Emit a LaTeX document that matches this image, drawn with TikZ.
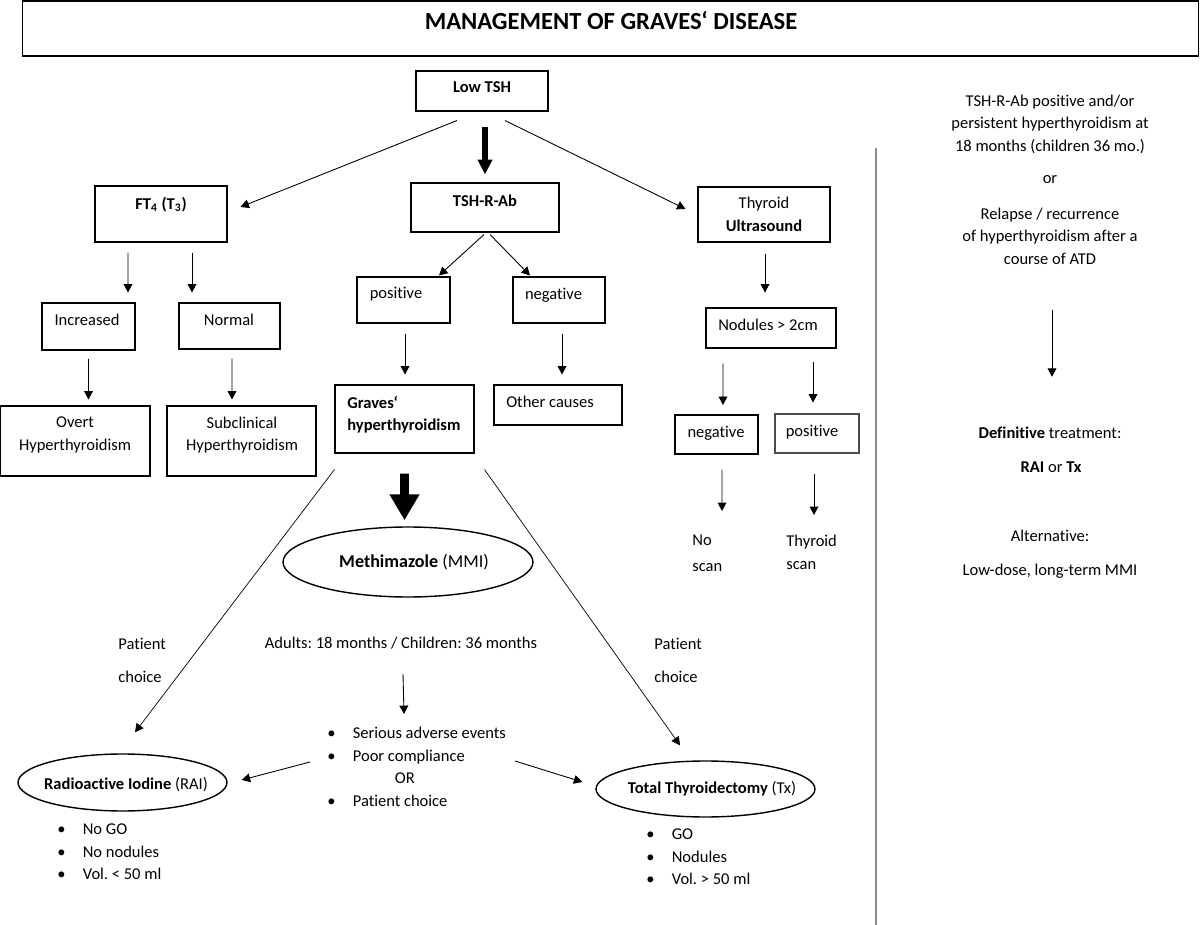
\documentclass[tikz,border=0pt]{standalone}
\usepackage{fontspec}
\setmainfont{Carlito}[Ligatures=NoCommon]
\usetikzlibrary{arrows.meta,shapes.geometric,calc}
\newcommand{\bul}{\makebox[14.5pt][l]{\textbullet}}
\frenchspacing

\begin{document}
\begin{tikzpicture}[x=0.02cm,y=-0.02cm]
	\tikzstyle{every node}+=[inner sep=0pt, font=\fontsize{9.4}{12.8}\selectfont]
	\tikzstyle{box}=[draw, line width=0.6pt]
	\tikzstyle{oval}=[draw, ellipse, line width=0.8pt]
	\tikzstyle{txt}=[align=center]
	\tikzstyle{arr}=[-{Triangle[length=4.8pt,width=5pt]}, line width=0.5pt]
	\tikzstyle{fat}=[-{Triangle[length=8.5pt,width=8pt]}, line width=3.4pt]
	\tikzstyle{huge}=[-{Triangle[length=14.7pt,width=16pt]}, line width=5pt]
	\useasboundingbox (0,0) rectangle (1200,925);
	% title
	\node[box, minimum width=23.54cm, minimum height=1.1cm] (title) at (610.5,28.5) {};
	\node[font=\fontsize{14}{16}\selectfont\bfseries] (titlelbl) at (611,21) {MANAGEMENT OF GRAVES‘ DISEASE};
	% first row
	\node[box, minimum width=2.64cm, minimum height=0.8cm] (lowtsh) at (482,91) {};
	\node[txt] (lowtshlbl) at (482,87.5) {\textbf{Low TSH}};
	\node[box, minimum width=2.64cm, minimum height=1.12cm] (ft4) at (161,214) {};
	\node[txt] (ft4lbl) at (161,204.5) {\textbf{FT\textsubscript{4} (T\textsubscript{3})}};
	\node[box, minimum width=2.96cm, minimum height=0.98cm] (trab) at (485,207.5) {};
	\node[txt] (trablbl) at (485,201) {\textbf{TSH-R-Ab}};
	\node[box, minimum width=2.64cm, minimum height=1.1cm] (us) at (764,214.5) {};
	\node[txt] (uslbl) at (764,214.5) {Thyroid\\\textbf{Ultrasound}};
	% second row
	\node[box, minimum width=1.86cm, minimum height=0.94cm] (inc) at (88.5,326.5) {};
	\node[txt] (inclbl) at (87,320) {Increased};
	\node[box, minimum width=2.02cm, minimum height=0.92cm] (norm) at (229.5,326) {};
	\node[txt] (normlbl) at (229,320) {Normal};
	\node[box, minimum width=1.86cm, minimum height=0.92cm] (pos) at (403.5,300) {};
	\node[txt] (poslbl) at (396,294.5) {positive};
	\node[box, minimum width=1.84cm, minimum height=0.92cm] (neg) at (559,300) {};
	\node[txt] (neglbl) at (553.5,295) {negative};
	\node[box, minimum width=2.6cm, minimum height=0.8cm] (nod) at (771,328) {};
	\node[txt] (nodlbl) at (768,325) {Nodules > 2cm};
	% third row
	\node[box, minimum width=3.0cm, minimum height=1.4cm] (overt) at (75,441) {};
	\node[txt] (overtlbl) at (75,435) {Overt\\Hyperthyroidism};
	\node[box, minimum width=2.98cm, minimum height=1.4cm] (subc) at (241.5,441) {};
	\node[txt] (subclbl) at (242,435) {Subclinical\\Hyperthyroidism};
	\node[box, minimum width=2.78cm, minimum height=1.36cm] (graves) at (404.5,419) {};
	\node[align=left, anchor=west] (graveslbl) at (347,414.5) {\textbf{Graves‘}\\\textbf{hyperthyroidism}};
	\node[box, minimum width=2.56cm, minimum height=0.8cm] (other) at (558,405) {};
	\node[txt] (otherlbl) at (550,402) {Other causes};
	\node[box, minimum width=1.66cm, minimum height=0.78cm] (negr) at (716.5,434.5) {};
	\node[txt] (negrlbl) at (716,433) {negative};
	\node[box, draw=black!70, minimum width=1.68cm, minimum height=0.78cm] (posr) at (817,433.5) {};
	\node[txt] (posrlbl) at (812,432) {positive};
	\node[align=left, anchor=north west] (noscan) at (692,535) {No\\[2pt]scan};
	\node[align=left, anchor=north west] (thyscan) at (786,535) {Thyroid\\scan};
	% treatment
	\node[oval, minimum width=5cm, minimum height=1.4cm] (mmi) at (408,562) {};
	\node[txt, font=\fontsize{10.3}{12}\selectfont] (mmilbl) at (414,562) {\textbf{Methimazole} (MMI)};
	\node[txt] (adults) at (401,643) {Adults: 18 months / Children: 36 months};
	\node[align=left, anchor=west] (pcl) at (118,660.5) {Patient\\[5.8pt]choice};
	\node[align=left, anchor=west] (pcr) at (654,660.5) {Patient\\[5.8pt]choice};
	\node[align=left, anchor=north west] (crit) at (327,727) {\bul Serious adverse events\\\bul Poor compliance\\\hspace{38.5pt}OR\\\bul Patient choice};
	\node[oval, minimum width=4.18cm, minimum height=1.14cm] (rai) at (122.5,782.5) {};
	\node[txt] (railbl) at (126,785) {\textbf{Radioactive Iodine} (RAI)};
	\node[oval, minimum width=4.38cm, minimum height=1.12cm] (tx) at (705.5,789) {};
	\node[txt] (txlbl) at (712,789) {\textbf{Total Thyroidectomy} (Tx)};
	\node[align=left, anchor=north west] (railist) at (57,823.5) {\bul No GO\\\bul No nodules\\\bul Vol. < 50 ml};
	\node[align=left, anchor=north west] (txlist) at (646,828.5) {\bul GO\\\bul Nodules\\\bul Vol. > 50 ml};
	% right panel
	\draw[line width=1pt, black!45] (876,148) -- (876,925);
	\node[txt] (rcrit) at (1050,124) {TSH-R-Ab positive and/or\\persistent hyperthyroidism at\\18 months (children 36 mo.)};
	\node[txt] (ror) at (1050,180) {or};
	\node[txt] (rrel) at (1050,236) {Relapse / recurrence\\of hyperthyroidism after a\\course of ATD};
	\node[txt] (rdef) at (1050,433) {\textbf{Definitive} treatment:};
	\node[txt] (rrai) at (1051,467) {\textbf{RAI} or \textbf{Tx}};
	\node[txt] (ralt) at (1050,536) {Alternative:};
	\node[txt] (rlow) at (1050,571) {Low-dose, long-term MMI};
	% connectors
	\draw[arr] ($(lowtsh.south)+(-25,9)$) -- ($(ft4.east)+(13,-7)$);
	\draw[fat] ($(lowtsh.south)+(3,15)$) -- ($(trab.north)+(0,-8)$);
	\draw[arr] ($(lowtsh.south)+(23,9)$) -- ($(us.west)+(-12,-5.5)$);
	\draw[arr] ($(ft4.south)+(-33,10)$) -- ($(inc.north)+(39.5,-10)$);
	\draw[arr] ($(ft4.south)+(31,10)$) -- ($(norm.north)+(-37.5,-10)$);
	\draw[arr] ($(trab.south)+(-1,2)$) -- ($(pos.north)+(35.5,-1)$);
	\draw[arr] ($(trab.south)+(5,2)$) -- ($(neg.north)+(-29,-1)$);
	\draw[arr] ($(us.south)+(1,11)$) -- ($(nod.north)+(-6,-15)$);
	\draw[arr] ($(inc.south)+(0,8)$) -- ($(overt.north)+(13.5,-6)$);
	\draw[arr] ($(norm.south)+(2.5,9)$) -- ($(subc.north)+(-9.5,-6)$);
	\draw[arr] ($(pos.south)+(1.5,10)$) -- ($(graves.north)+(0.5,-10)$);
	\draw[arr] ($(neg.south)+(3,10)$) -- ($(other.north)+(4,-10)$);
	\draw[arr] ($(nod.south)+(-48,15)$) -- ($(negr.north)+(6.5,-9.5)$);
	\draw[arr] ($(nod.south)+(42,13)$) -- ($(posr.north)+(-4,-11)$);
	\draw[arr] ($(negr.south)+(5.5,15)$) -- ($(noscan.north west)+(30,-24)$);
	\draw[arr] ($(posr.south)+(-3,20)$) -- ($(thyscan.north west)+(28,-20)$);
	\draw[huge] ($(graves.south)+(0,20)$) -- ($(mmi.north)+(-3.5,-6)$);
	\draw[arr, line width=0.4pt] ($(graves.south west)+(0,16)$) -- ($(rai.north)+(12.5,-21)$);
	\draw[arr, line width=0.4pt] ($(graves.south east)+(10,16)$) -- ($(tx.north)+(-25.5,-15)$);
	\draw[arr] ($(adults.south)+(2,24.5)$) -- ($(crit.north west)+(77,-13)$);
	\draw[arr] ($(crit.north west)+(-17,35)$) -- ($(rai.east)+(14,-2.5)$);
	\draw[arr] ($(crit.north west)+(188,34)$) -- ($(tx.west)+(-13,-7)$);
	\draw[arr] ($(rrel.south)+(2,45)$) -- ($(rdef.north)+(2,-50)$);
\end{tikzpicture}
\end{document}
